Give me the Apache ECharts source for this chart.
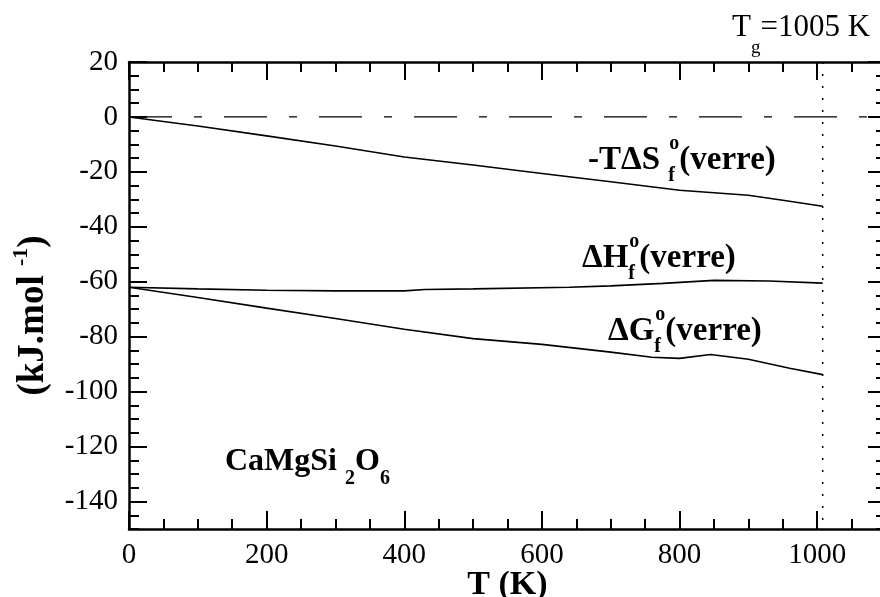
<!DOCTYPE html>
<html>
<head>
<meta charset="utf-8">
<script src="https://cdn.jsdelivr.net/npm/echarts@6/dist/echarts.min.js"></script>
<style>
  html, body { margin: 0; padding: 0; background: #fff; overflow: hidden; }
  #chart { width: 900px; height: 597px; }
</style>
</head>
<body>
<div id="chart"></div>
<script>
// values (T in K, energies in kJ/mol)
const tempS = [0, 100, 200, 300, 400, 500, 600, 700, 800, 900, 950, 1008];
const negTdS = [0, -3.3, -6.9, -10.6, -14.6, -17.5, -20.6, -23.6, -26.7, -28.5, -30.3, -32.5];

const tempH = [0, 100, 200, 300, 400, 430, 500, 640, 700, 776, 850, 930, 1008];
const dH = [-62, -62.6, -63.1, -63.3, -63.3, -62.8, -62.6, -62.0, -61.5, -60.6, -59.5, -59.7, -60.5];

const tempG = [0, 100, 200, 300, 400, 500, 600, 700, 760, 800, 845, 900, 960, 1008];
const dG = [-62, -65.7, -69.6, -73.4, -77.3, -80.7, -82.8, -85.6, -87.5, -87.9, -86.5, -88.2, -91.5, -93.8];

const tgLine = 1008;
const xMajor = [0, 200, 400, 600, 800, 1000];
const yMajor = [-140, -120, -100, -80, -60, -40, -20, 0, 20];

const FONT = "'Liberation Serif', 'Times New Roman', serif";
const BLACK = "#000";

const pairs = (xs, ys) => xs.map((x, i) => [x, ys[i]]);

const LINE_DEFAULT = {
  type: "line",
  showSymbol: false,
  symbol: "none",
  silent: true,
  lineStyle: { color: BLACK, width: 1.6 },
};

function majorAxis(pos, values, extra) {
  return {
    type: "value",
    position: pos,
    axisLine: { show: true, onZero: false, lineStyle: { color: BLACK, width: 2.5 } },
    axisTick: {
      show: true,
      inside: true,
      length: 18,
      customValues: values,
      lineStyle: { color: BLACK, width: 2 },
    },
    splitLine: { show: false },
    ...extra,
  };
}

function minorAxis(pos, interval, extra) {
  return {
    type: "value",
    position: pos,
    interval: interval,
    axisLine: { show: false, onZero: false },
    axisTick: { show: true, inside: true, length: 10, lineStyle: { color: BLACK, width: 2 } },
    axisLabel: { show: false },
    splitLine: { show: false },
    ...extra,
  };
}

const X_RANGE = { min: 0, max: 1100 };
const Y_RANGE = { min: -150, max: 20 };

let myChart = echarts.init(document.getElementById("chart"), null, { renderer: "canvas" });

let option = {
  animation: false,
  backgroundColor: "#fff",
  grid: { left: 129, right: 14, top: 62, bottom: 68, containLabel: false, outerBoundsMode: "none" },
  xAxis: [
    majorAxis("bottom", xMajor, {
      ...X_RANGE,
      axisLabel: {
        customValues: xMajor,
        fontFamily: FONT,
        fontSize: 29,
        color: BLACK,
        margin: 26,
        verticalAlign: "middle",
        formatter: (v) => `${v}`,
      },
      name: "T (K)",
      nameLocation: "middle",
      nameGap: 39,
      nameMoveOverlap: false,
      nameTextStyle: { fontFamily: FONT, fontSize: 34, fontWeight: "bold", color: BLACK },
    }),
    minorAxis("bottom", 50, { ...X_RANGE }),
    majorAxis("top", xMajor, { ...X_RANGE, axisLabel: { show: false } }),
    minorAxis("top", 50, { ...X_RANGE }),
  ],
  yAxis: [
    majorAxis("left", yMajor, {
      ...Y_RANGE,
      axisLabel: {
        customValues: yMajor,
        fontFamily: FONT,
        fontSize: 29,
        color: BLACK,
        margin: 11,
        formatter: (v) => `${v}`,
      },
      name: "(kJ.mol {sup|-1})",
      nameLocation: "middle",
      nameRotate: 90,
      nameGap: 73,
      nameMoveOverlap: false,
      nameTextStyle: {
        fontFamily: FONT,
        fontSize: 37,
        fontWeight: "bold",
        color: BLACK,
        lineHeight: 46,
        padding: [0, 40, 0, 0],
        rich: {
          sup: {
            fontFamily: FONT,
            fontSize: 22,
            fontWeight: "bold",
            color: BLACK,
            lineHeight: 26,
            verticalAlign: "top",
          },
        },
      },
    }),
    minorAxis("left", 5, { ...Y_RANGE }),
    majorAxis("right", yMajor, { ...Y_RANGE, axisLabel: { show: false } }),
    minorAxis("right", 5, { ...Y_RANGE }),
  ],
  series: [
    {
      ...LINE_DEFAULT,
      name: "zero",
      data: [[X_RANGE.min, 0], [X_RANGE.max, 0]],
      lineStyle: { color: BLACK, width: 1.2, type: [43, 22, 8, 22] },
    },
    {
      ...LINE_DEFAULT,
      name: "Tg",
      data: [[tgLine, Y_RANGE.max], [tgLine, Y_RANGE.min]],
      lineStyle: { color: BLACK, width: 1.5, type: [2, 10] },
    },
    { ...LINE_DEFAULT, name: "-TdS", data: pairs(tempS, negTdS) },
    { ...LINE_DEFAULT, name: "dH", data: pairs(tempH, dH) },
    { ...LINE_DEFAULT, name: "dG", data: pairs(tempG, dG) },
  ],
  graphic: [],
};

function labelRich(mainSize, lh) {
  const small = { fontFamily: FONT, fontSize: 20, fontWeight: "bold", color: BLACK };
  return {
    m: { fontFamily: FONT, fontSize: mainSize, fontWeight: "bold", color: BLACK, lineHeight: lh },
    sub: { ...small, lineHeight: 20, verticalAlign: "bottom", width: 1 },
    sub2: { ...small, lineHeight: 18, verticalAlign: "bottom" },
    sup: { ...small, lineHeight: 28, verticalAlign: "top" },
  };
}

function addText(text, left, top, rich) {
  option.graphic.push({
    type: "text",
    left: left,
    top: top,
    silent: true,
    style: { text: text, rich: rich, fill: BLACK },
  });
}

addText("{m|-TΔS }{sub|f}{sup|o}{m|(verre)}", 588, 134, labelRich(33, 52));
addText("{m|ΔH}{sub|f}{sup|o}{m|(verre)}", 582, 232, labelRich(33, 52));
addText("{m|ΔG}{sub|f}{sup|o}{m|(verre)}", 608, 305, labelRich(33, 52));
addText("{m|CaMgSi }{sub2|2}{m|O}{sub2|6}", 225, 446, labelRich(32, 54));

option.graphic.push({
  type: "text",
  left: 732,
  top: 12,
  silent: true,
  style: {
    text: "{m|T}{sub|g}{m|=1005 K}",
    rich: {
      m: { fontFamily: FONT, fontSize: 31, color: BLACK, lineHeight: 60 },
      sub: { fontFamily: FONT, fontSize: 19, color: BLACK, lineHeight: 16, verticalAlign: "bottom" },
    },
  },
});

option && myChart.setOption(option);
</script>
</body>
</html>
